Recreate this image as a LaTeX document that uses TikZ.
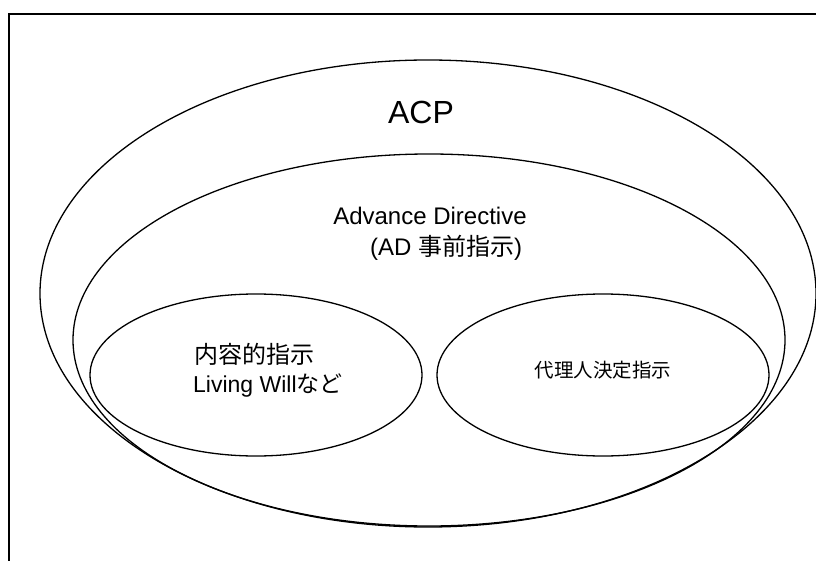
\documentclass[tikz,border=0pt]{standalone}
\usepackage{fontspec}
\setmainfont{Liberation Sans}
\newfontfamily\jp{Noto Sans CJK JP}
\usetikzlibrary{shapes.geometric}
\begin{document}
\begin{tikzpicture}[x=1pt,y=-1pt,
  oval/.style={draw,line width=1.3pt},
  lbl/.style={inner sep=0pt,align=center}]
\useasboundingbox (0,0) rectangle (816,561);
\fill[white] (0,0) rectangle (816,561);
% frame (cropped)
\draw[line width=2.2pt] (9,580) -- (9,14) -- (830,14);
% ellipses
\draw[oval] (428,293.5) ellipse [x radius=388pt, y radius=233.5pt];
\draw[oval] (429,340) ellipse [x radius=356pt, y radius=186pt];
\draw[oval] (256,375) ellipse [x radius=166pt, y radius=81pt];
\draw[oval] (603,375) ellipse [x radius=166pt, y radius=81pt];
% labels
\node[lbl,anchor=base] (acp) at (421,124) {\fontsize{32}{38}\selectfont ACP};
\node[lbl,anchor=base] (ad1) at (430,225) {\fontsize{24}{30}\selectfont Advance Directive};
\node[lbl,anchor=base] (ad2) at (446,255) {\fontsize{24}{30}\selectfont (AD {\jp 事前指示})};
\node[lbl,anchor=base west] (lw1) at (194,363) {\fontsize{24}{28}\selectfont\jp 内容的指示};
\node[lbl,anchor=base west] (lw2) at (193,392) {\fontsize{23}{28}\selectfont Living Will{\jp など}};
\node[lbl,anchor=base] (dr) at (603,377) {\fontsize{19.5}{24}\selectfont\jp 代理人決定指示};
\end{tikzpicture}
\end{document}
